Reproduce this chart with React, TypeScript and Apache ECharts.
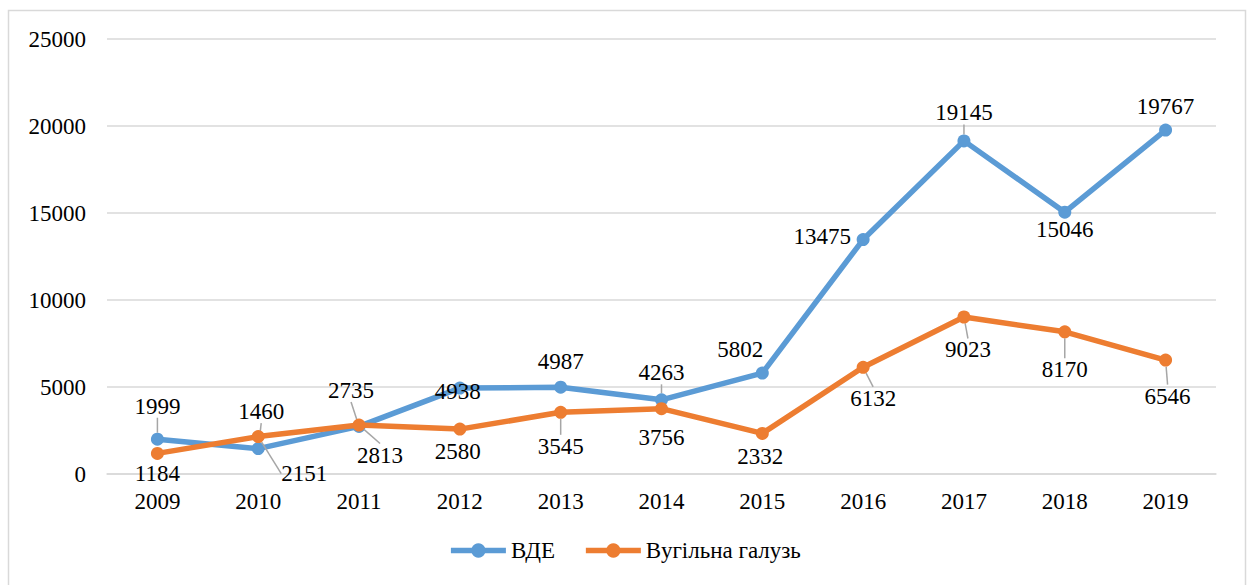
import React, { useEffect, useRef } from "react";
import * as echarts from "echarts";

const years = ["2009", "2010", "2011", "2012", "2013", "2014", "2015", "2016", "2017", "2018", "2019"];
const vdeValues = [1999, 1460, 2735, 4938, 4987, 4263, 5802, 13475, 19145, 15046, 19767];
const coalValues = [1184, 2151, 2813, 2580, 3545, 3756, 2332, 6132, 9023, 8170, 6546];
const seriesNames = ["ВДЕ", "Вугільна галузь"];

// label nudges (relative to point centre) and whether a leader line is drawn
const vdeLabelDx = [0, 3, -8, -2, 0, 0, -22, -41, 0, 0, 0];
const vdeLabelDy = [-33, -37, -36, 3, -26, -27, -24, -3, -28, 17, -24];
const vdeLeader = [true, true, true, false, false, true, false, false, true, false, false];
const coalLabelDx = [0, 46, 21, -2, 0, 0, -2, 10, 4, 0, 2];
const coalLabelDy = [20, 37, 30, 22, 34, 29, 23, 31, 33, 38, 36];
const coalLeader = [false, true, true, false, true, false, false, true, true, true, true];

const FONT = "Liberation Serif";
const BLUE = "#5B9BD5";
const ORANGE = "#ED7D31";

export default function App() {
  const ref = useRef<HTMLDivElement>(null);
  useEffect(() => {
    document.body.style.margin = "0";
    if (!ref.current) return;
    const chart = echarts.init(ref.current, null, { renderer: "svg" });
    const mkData = (vals: number[], leader: boolean[]) =>
      vals.map((v, i) => ({
        value: v,
        labelLine: { show: leader[i] },
      }));
    const labelStyle = {
      show: true,
      position: "inside" as const,
      color: "#000",
      fontFamily: FONT,
      fontSize: 23,
    };
    const labelLineStyle = {
      show: true,
      showAbove: false,
      lineStyle: { color: "#A6A6A6", width: 1.5 },
    };
    chart.setOption({
      animation: false,
      backgroundColor: "#fff",
      textStyle: { fontFamily: FONT },
      graphic: [
        {
          type: "rect",
          shape: { x: 8.5, y: 10.5, width: 1237, height: 590 },
          style: { fill: "none", stroke: "#D9D9D9", lineWidth: 1.5 },
          silent: true,
          z: -1,
        },
      ],
      grid: { left: 107, right: 33, top: 39, bottom: 111, containLabel: false },
      xAxis: {
        type: "category",
        data: years,
        boundaryGap: true,
        axisLine: { show: true, lineStyle: { color: "#D9D9D9", width: 1.5 } },
        axisTick: { show: false },
        axisLabel: { color: "#000", fontFamily: FONT, fontSize: 23, margin: 16 },
      },
      yAxis: {
        type: "value",
        min: 0,
        max: 25000,
        interval: 5000,
        axisLine: { show: false },
        axisTick: { show: false },
        splitLine: { lineStyle: { color: "#D9D9D9", width: 1.5 } },
        axisLabel: {
          color: "#000",
          fontFamily: FONT,
          fontSize: 23,
          margin: 21,
          formatter: (v: number) => String(v),
        },
      },
      legend: {
        bottom: 18,
        left: "center",
        itemWidth: 55,
        itemHeight: 18,
        itemGap: 28,
        textStyle: { color: "#000", fontFamily: FONT, fontSize: 23 },
        lineStyle: { width: 5.5 },
        data: seriesNames,
      },
      series: [
        {
          name: seriesNames[0],
          type: "line",
          data: mkData(vdeValues, vdeLeader),
          color: BLUE,
          lineStyle: { width: 5.5, color: BLUE },
          itemStyle: { color: BLUE },
          symbol: "circle",
          symbolSize: 13,
          label: labelStyle,
          labelLine: labelLineStyle,
          labelLayout: (p: any) => ({ dx: vdeLabelDx[p.dataIndex], dy: vdeLabelDy[p.dataIndex] }),
          z: 3,
        },
        {
          name: seriesNames[1],
          type: "line",
          data: mkData(coalValues, coalLeader),
          color: ORANGE,
          lineStyle: { width: 5.5, color: ORANGE },
          itemStyle: { color: ORANGE },
          symbol: "circle",
          symbolSize: 13,
          label: labelStyle,
          labelLine: labelLineStyle,
          labelLayout: (p: any) => ({ dx: coalLabelDx[p.dataIndex], dy: coalLabelDy[p.dataIndex] }),
          z: 4,
        },
      ],
    });
    return () => chart.dispose();
  }, []);
  return <div ref={ref} style={{ width: 1249, height: 585 }} />;
}
